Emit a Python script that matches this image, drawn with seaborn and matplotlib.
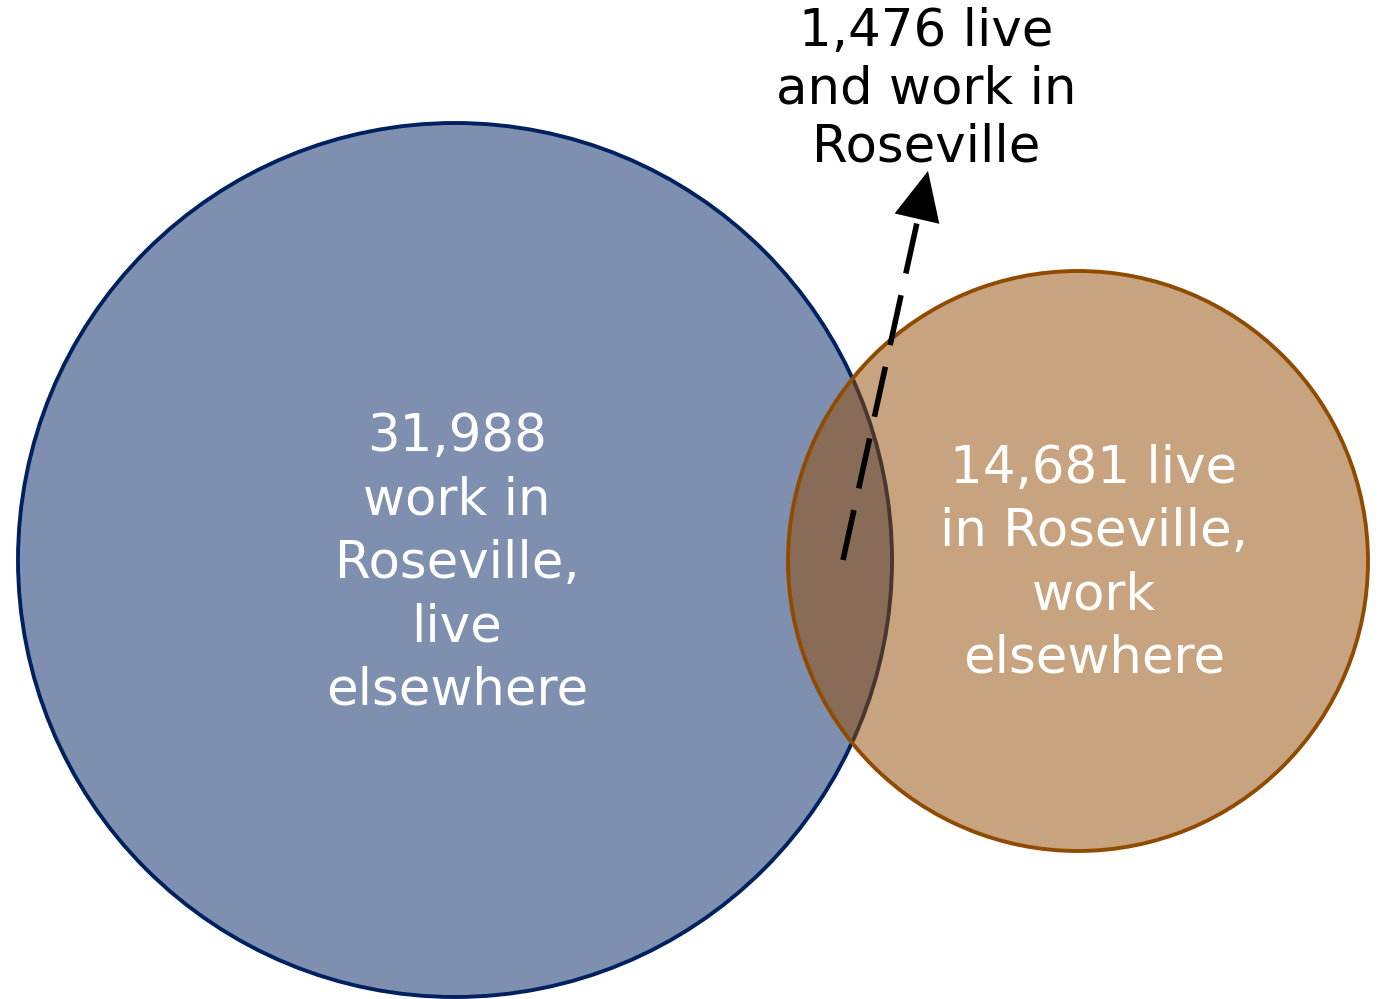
"""Roseville commute Venn diagram."""

import matplotlib

matplotlib.use("Agg")
import matplotlib.pyplot as plt
import seaborn as sns
from matplotlib.patches import Circle

# data
set_names = ["work in Roseville", "live in Roseville"]
only_counts = [31988, 14681]
both_count = 1476
place = "Roseville"

# colours
BLUE = "#002160"
BROWN = "#914B00"

sns.set_theme(style="white")
plt.rcParams["font.family"] = ["DejaVu Sans"]

fig = plt.figure(figsize=(13.83, 9.99), dpi=100)
ax = fig.add_axes([0, 0, 1, 1])
ax.set_xlim(0, 1383)
ax.set_ylim(999, 0)
ax.set_aspect("equal")
ax.axis("off")

# circles (pixel layout)
ax.add_patch(Circle((455, 560), 437, facecolor=BLUE, alpha=0.5, edgecolor="none"))
ax.add_patch(Circle((455, 560), 437, fill=False, edgecolor=BLUE, lw=2.8))
ax.add_patch(Circle((1078, 561), 290, facecolor=BROWN, alpha=0.5, edgecolor="none"))
ax.add_patch(Circle((1078, 561), 290, fill=False, edgecolor=BROWN, lw=2.8))

txt = dict(ha="center", va="center", fontsize=37, linespacing=1.34)
ax.text(457, 564, f"{only_counts[0]:,}\nwork in\n{place},\nlive\nelsewhere", color="white", **txt)
ax.text(1094, 564, f"{only_counts[1]:,} live\nin {place},\nwork\nelsewhere", color="white", **txt)
ax.text(926, 90, f"{both_count:,} live\nand work in\n{place}", color="black",
        ha="center", va="center", fontsize=37, linespacing=1.2)

# dashed arrow from the overlap to the label
ax.plot([843, 918], [560, 218], color="black", lw=4, ls=(0, (9.2, 4.0)),
        solid_capstyle="butt", dash_capstyle="butt")
ax.annotate(
    "",
    xy=(928, 171),
    xytext=(919, 210),
    arrowprops=dict(arrowstyle="-|>,head_length=1.6,head_width=0.75", color="black", lw=0,
                    shrinkA=0, shrinkB=0, mutation_scale=22),
)

fig.savefig("out.png", dpi=100, facecolor="white")
